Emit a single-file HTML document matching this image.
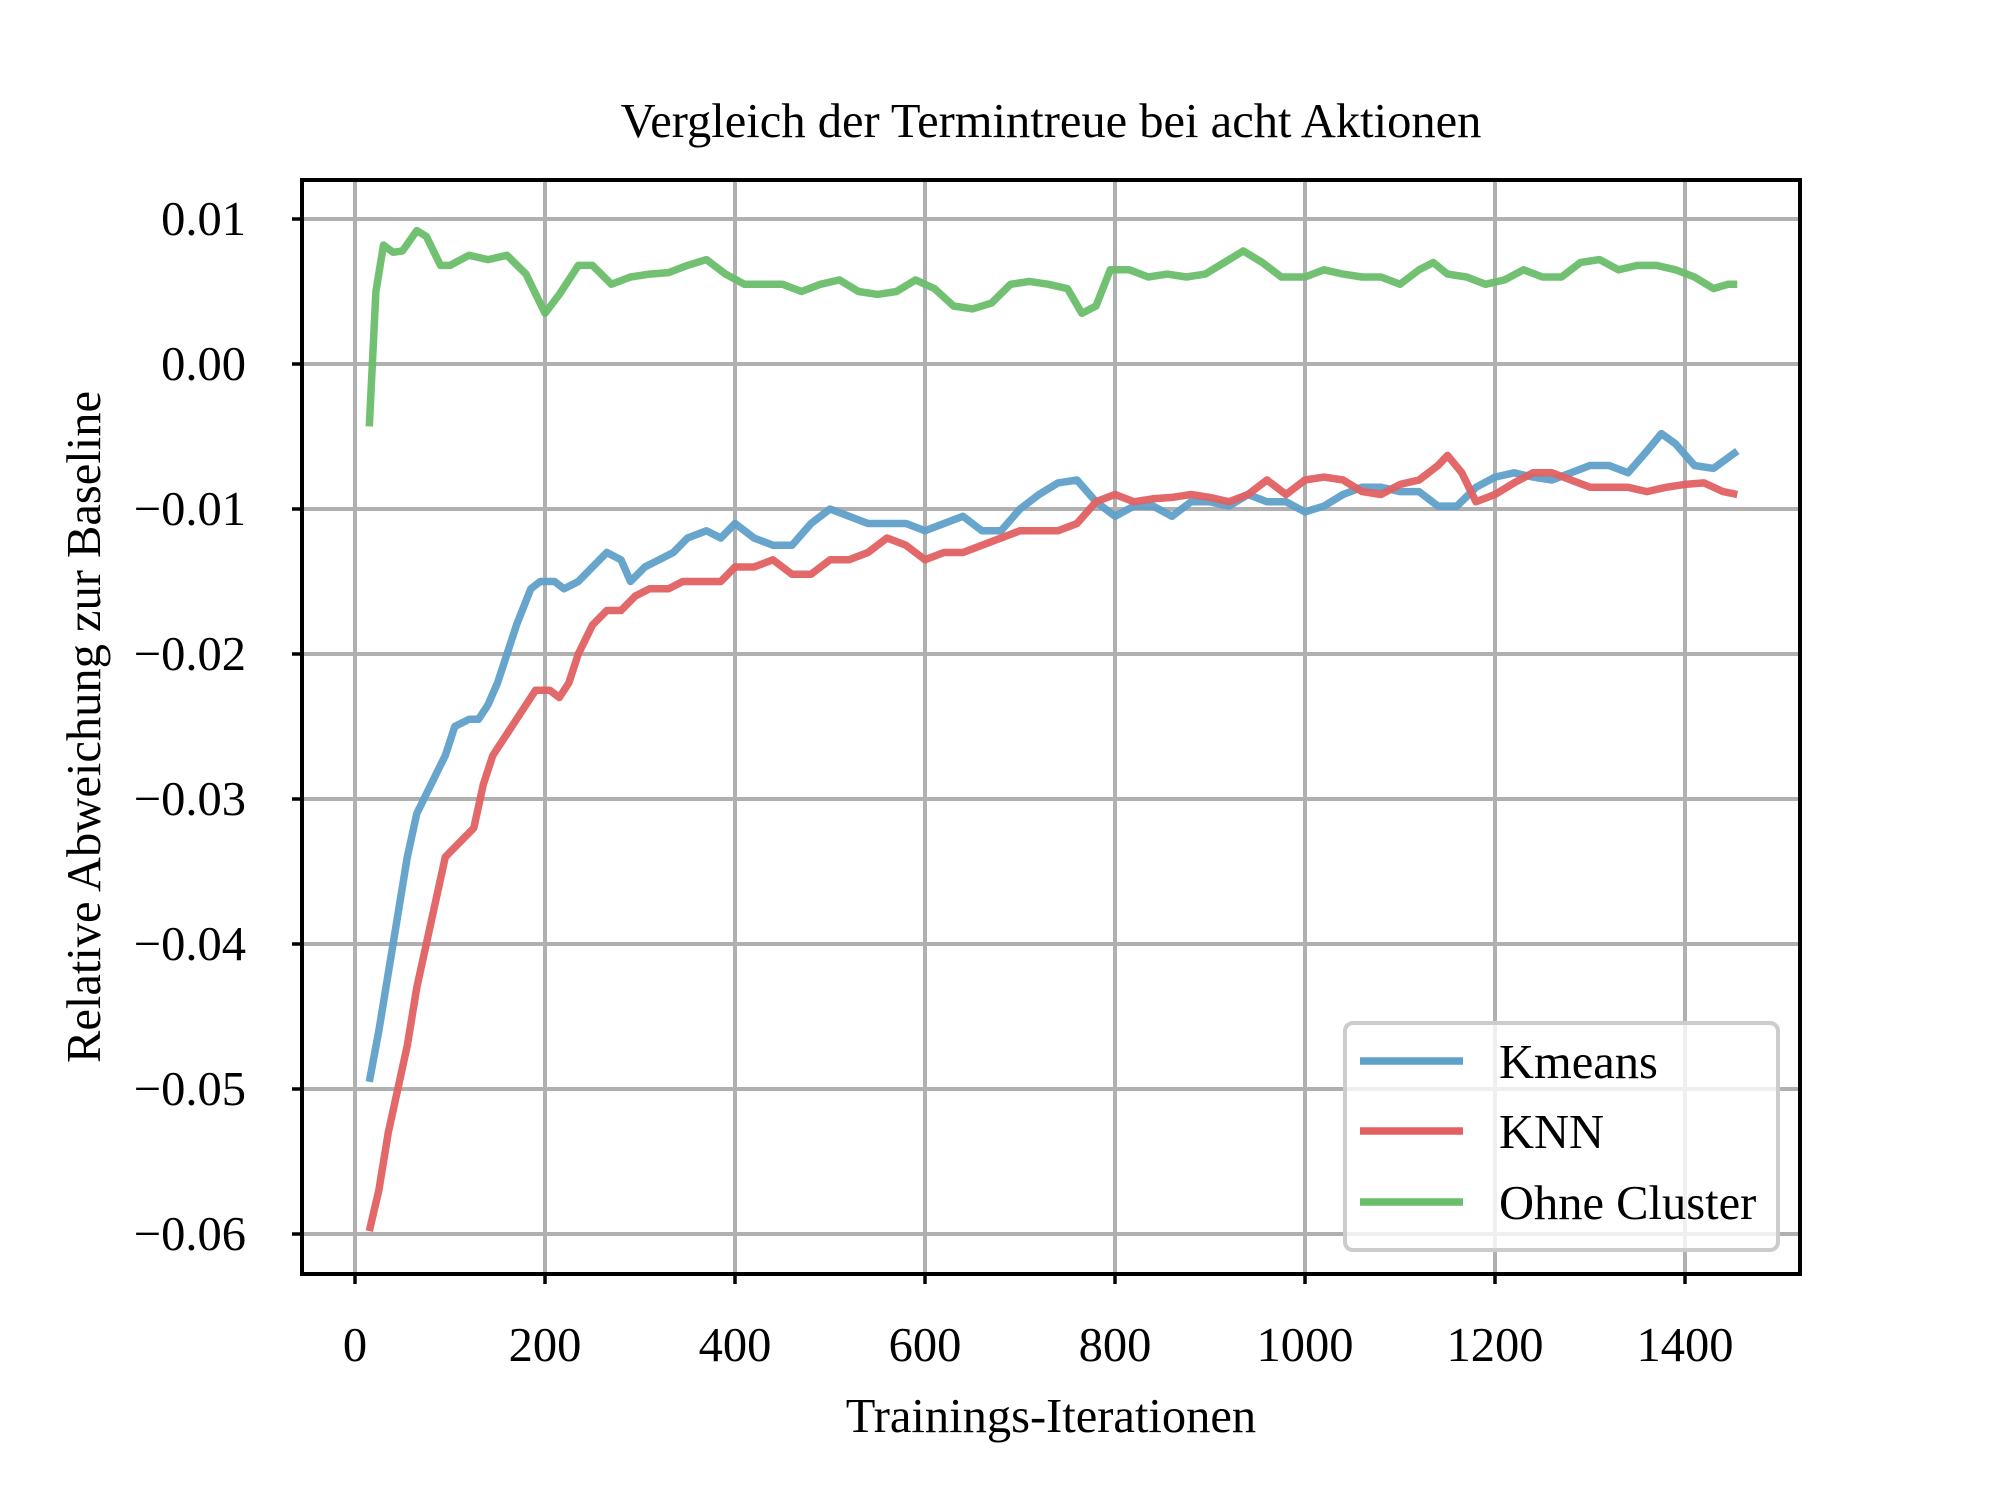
<!DOCTYPE html>
<html><head><meta charset="utf-8"><style>
html,body{margin:0;padding:0;background:#fff;}
svg{display:block;font-family:"Liberation Serif","DejaVu Serif",serif;}
</style></head><body>
<svg id="chart" width="2000" height="1500" viewBox="0 0 2000 1500" xmlns="http://www.w3.org/2000/svg">
<rect width="2000" height="1500" fill="#fff"/>
<g id="grid"></g>
<g id="series"></g>
<rect x="302" y="180" width="1498" height="1094" fill="none" stroke="#000" stroke-width="4"/>
<g id="ticks"></g>
<text x="1051" y="137" font-size="48.5" text-anchor="middle">Vergleich der Termintreue bei acht Aktionen</text>
<text x="1051" y="1432" font-size="48.5" text-anchor="middle">Trainings-Iterationen</text>
<text x="0" y="0" font-size="48.5" text-anchor="middle" transform="translate(100,727) rotate(-90)">Relative Abweichung zur Baseline</text>
<g id="legend">
<rect x="1345" y="1023" width="433" height="227" rx="8" fill="#fff" fill-opacity="0.8" stroke="#cccccc" stroke-width="4"/>
</g>
</svg>
<script>
const xTicks=[0,200,400,600,800,1000,1200,1400];
const yTicks=[0.01,0,-0.01,-0.02,-0.03,-0.04,-0.05,-0.06];
const yTickLabels=["0.01","0.00","\u22120.01","\u22120.02","\u22120.03","\u22120.04","\u22120.05","\u22120.06"];
const seriesNames=["Kmeans","KNN","Ohne Cluster"];
const kmX=[15,25,35,45,55,65,80,95,105,120,130,140,150,160,170,185,195,210,220,235,250,265,280,290,305,320,335,350,370,385,400,420,440,460,480,500,520,540,560,580,600,620,640,660,680,700,720,740,760,780,800,820,840,860,880,900,920,940,960,980,1000,1020,1040,1060,1080,1100,1120,1140,1160,1180,1200,1220,1240,1260,1280,1300,1320,1340,1360,1375,1390,1410,1430,1455];
const kmY=[-0.0495,-0.046,-0.042,-0.038,-0.034,-0.031,-0.029,-0.027,-0.025,-0.0245,-0.0245,-0.0235,-0.022,-0.02,-0.018,-0.0155,-0.015,-0.015,-0.0155,-0.015,-0.014,-0.013,-0.0135,-0.015,-0.014,-0.0135,-0.013,-0.012,-0.0115,-0.012,-0.011,-0.012,-0.0125,-0.0125,-0.011,-0.01,-0.0105,-0.011,-0.011,-0.011,-0.0115,-0.011,-0.0105,-0.0115,-0.0115,-0.01,-0.009,-0.0082,-0.008,-0.0095,-0.0105,-0.0098,-0.0098,-0.0105,-0.0095,-0.0095,-0.0098,-0.009,-0.0095,-0.0095,-0.0102,-0.0098,-0.009,-0.0085,-0.0085,-0.0088,-0.0088,-0.0098,-0.0098,-0.0085,-0.0078,-0.0075,-0.0078,-0.008,-0.0075,-0.007,-0.007,-0.0075,-0.006,-0.0048,-0.0055,-0.007,-0.0072,-0.006];
const knnX=[15,25,35,45,55,65,75,85,95,110,125,135,145,160,175,190,205,215,225,235,250,265,280,295,310,330,345,365,385,400,420,440,460,480,500,520,540,560,580,600,620,640,660,680,700,720,740,760,780,800,820,840,860,880,900,920,940,960,980,1000,1020,1040,1060,1080,1100,1120,1140,1150,1165,1180,1200,1220,1240,1260,1280,1300,1320,1340,1360,1380,1400,1420,1440,1455];
const knnY=[-0.0598,-0.057,-0.053,-0.05,-0.047,-0.043,-0.04,-0.037,-0.034,-0.033,-0.032,-0.029,-0.027,-0.0255,-0.024,-0.0225,-0.0225,-0.023,-0.022,-0.02,-0.018,-0.017,-0.017,-0.016,-0.0155,-0.0155,-0.015,-0.015,-0.015,-0.014,-0.014,-0.0135,-0.0145,-0.0145,-0.0135,-0.0135,-0.013,-0.012,-0.0125,-0.0135,-0.013,-0.013,-0.0125,-0.012,-0.0115,-0.0115,-0.0115,-0.011,-0.0095,-0.009,-0.0095,-0.0093,-0.0092,-0.009,-0.0092,-0.0095,-0.009,-0.008,-0.009,-0.008,-0.0078,-0.008,-0.0088,-0.009,-0.0083,-0.008,-0.007,-0.0063,-0.0075,-0.0095,-0.009,-0.0082,-0.0075,-0.0075,-0.008,-0.0085,-0.0085,-0.0085,-0.0088,-0.0085,-0.0083,-0.0082,-0.0088,-0.009];
const ocX=[15,22,30,40,50,65,75,90,100,120,140,160,180,200,215,235,250,270,290,310,330,350,370,390,410,430,450,470,490,510,530,550,570,590,610,630,650,670,690,710,730,750,765,780,795,815,835,855,875,895,915,935,955,975,1000,1020,1040,1060,1080,1100,1120,1135,1150,1170,1190,1210,1230,1250,1270,1290,1310,1330,1350,1370,1390,1410,1430,1445,1455];
const ocY=[-0.0043,0.005,0.0082,0.0077,0.0078,0.0092,0.0088,0.0068,0.0068,0.0075,0.0072,0.0075,0.0062,0.0035,0.0048,0.0068,0.0068,0.0055,0.006,0.0062,0.0063,0.0068,0.0072,0.0062,0.0055,0.0055,0.0055,0.005,0.0055,0.0058,0.005,0.0048,0.005,0.0058,0.0052,0.004,0.0038,0.0042,0.0055,0.0057,0.0055,0.0052,0.0035,0.004,0.0065,0.0065,0.006,0.0062,0.006,0.0062,0.007,0.0078,0.007,0.006,0.006,0.0065,0.0062,0.006,0.006,0.0055,0.0065,0.007,0.0062,0.006,0.0055,0.0058,0.0065,0.006,0.006,0.007,0.0072,0.0065,0.0068,0.0068,0.0065,0.006,0.0052,0.0055,0.0055];

const NS="http://www.w3.org/2000/svg";
function X(v){return 355+v*0.95;}
function Y(v){return 219+(0.01-v)*14500;}
function mk(tag,attrs,parent){const e=document.createElementNS(NS,tag);for(const k in attrs)e.setAttribute(k,attrs[k]);parent.appendChild(e);return e;}
const grid=document.getElementById('grid'),ticks=document.getElementById('ticks'),series=document.getElementById('series'),legend=document.getElementById('legend');
xTicks.forEach(t=>{
  const g=mk('line',{x1:X(t),x2:X(t),y1:180,y2:1274,stroke:'#b0b0b0','stroke-width':4},grid);
  
  
  const tk=mk('line',{x1:X(t),x2:X(t),y1:1274,y2:1284,stroke:'#000','stroke-width':3.5},ticks);
  
  
  const tx=mk('text',{x:X(t),y:1361,'font-size':48.5,'text-anchor':'middle'},ticks);
  tx.textContent=String(t);
  
  
});
yTicks.forEach((t,i)=>{
  const g=mk('line',{x1:302,x2:1800,y1:Y(t),y2:Y(t),stroke:'#b0b0b0','stroke-width':4},grid);
  
  
  const tk=mk('line',{x1:292,x2:302,y1:Y(t),y2:Y(t),stroke:'#000','stroke-width':3.5},ticks);
  
  
  const tx=mk('text',{x:246,y:Y(t)+16,'font-size':48.5,'text-anchor':'end'},ticks);
  tx.textContent=yTickLabels[i];
  
  
});
const colors=['rgb(95,160,202)','rgb(226,96,97)','rgb(106,190,106)'];
const xs=[kmX,knnX,ocX],ys=[kmY,knnY,ocY];
xs.forEach((xa,s)=>{
  const d=xa.map((v,i)=>(i?'L':'M')+X(v).toFixed(1)+' '+Y(ys[s][i]).toFixed(1)).join(' ');
  const p=mk('path',{d:d,fill:'none',stroke:colors[s],'stroke-width':7.5,'stroke-linejoin':'round','stroke-opacity':0.95},series);
  
  
});
const ly=[1061,1131,1202];
seriesNames.forEach((n,i)=>{
  const l=mk('line',{x1:1360,x2:1463,y1:ly[i],y2:ly[i],stroke:colors[i],'stroke-width':7.5},legend);
  
  
  const t=mk('text',{x:1499,y:ly[i]+17,'font-size':48.5},legend);
  t.textContent=n;
  
  
});
</script>
</body></html>
